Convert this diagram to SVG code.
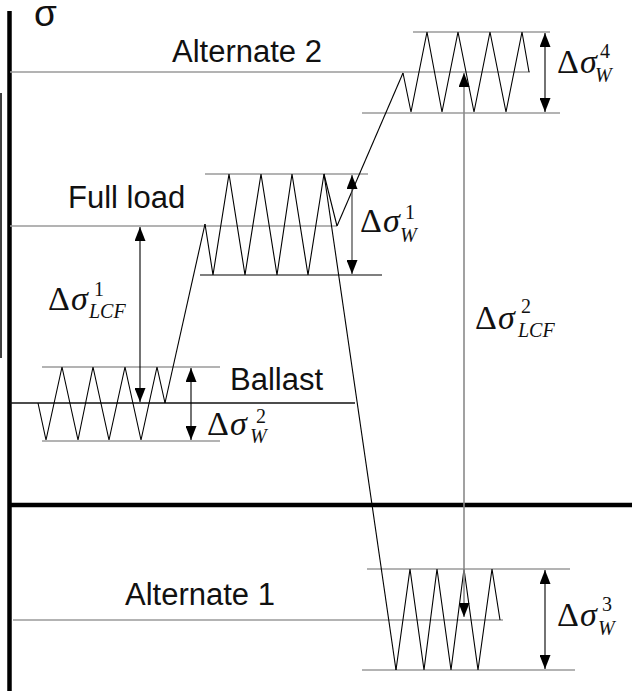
<svg xmlns="http://www.w3.org/2000/svg" width="635" height="691" viewBox="0 0 635 691">
<style>
.lbl{font-family:"Liberation Sans",Arial,sans-serif;font-size:31px;fill:#111}
.m{font-family:"Liberation Serif","Times New Roman",serif;font-size:34px;fill:#111}
.s{font-family:"Liberation Serif","Times New Roman",serif;font-size:20px;fill:#111}
.i{font-style:italic}
.g{stroke:#9a9a9a;stroke-width:1.6;fill:none}
.zz{stroke:#000;stroke-width:1.1;fill:none;stroke-linejoin:miter}
.ar{stroke:#000;stroke-width:1.1;fill:none}
</style>
<defs>
<marker id="ah" markerUnits="userSpaceOnUse" markerWidth="15" markerHeight="11" refX="14" refY="5.5" orient="auto-start-reverse" viewBox="0 0 15 11">
<path d="M0,0 L14,5.5 L0,11 z" fill="#000"/>
</marker>
</defs>
<rect width="635" height="691" fill="#fff"/>
<g id="axes">
<line x1="9.5" y1="11" x2="9.5" y2="691" stroke="#000" stroke-width="4.5"/>
<line x1="9" y1="505" x2="632" y2="505" stroke="#000" stroke-width="4.5"/>
<line x1="1" y1="93" x2="1" y2="358" stroke="#000" stroke-width="1.5"/>
<text class="lbl" x="34" y="26" style="font-size:37px">σ</text>
</g>
<g id="alternate2">
<line class="g" x1="10" y1="72" x2="530" y2="72"/>
<line class="g" x1="413" y1="32" x2="550" y2="32"/>
<line class="g" x1="362" y1="113" x2="560" y2="113"/>
<polyline class="zz" points="403,73 411,112 427,32 442,112 458,32 474,112 490,32 506,112 522,32 529,72"/>
<text class="lbl" x="172" y="62">Alternate 2</text>
</g>
<g id="fullload">
<line class="g" x1="10" y1="226" x2="337" y2="226"/>
<line class="g" x1="205" y1="174" x2="368" y2="174"/>
<line x1="200" y1="275" x2="382" y2="275" stroke="#555" stroke-width="1.4"/>
<polyline class="zz" points="205,224 213,275 229,174 245,275 261,174 277,275 292,174 308,275 324,174 337,226"/>
<text class="lbl" x="68" y="208">Full load</text>
</g>
<g id="ballast">
<line x1="10" y1="403" x2="355" y2="403" stroke="#111" stroke-width="1.3"/>
<line class="g" x1="42" y1="367" x2="220" y2="367"/>
<line class="g" x1="42" y1="441" x2="220" y2="441"/>
<polyline class="zz" points="38,403 46,440 62,367 78,440 93,367 109,440 125,367 141,440 157,367 165,403"/>
<text class="lbl" x="230" y="390">Ballast</text>
</g>
<g id="alternate1">
<line class="g" x1="13" y1="620" x2="503" y2="620"/>
<line class="g" x1="367" y1="569" x2="570" y2="569"/>
<line class="g" x1="362" y1="670" x2="575" y2="670"/>
<polyline class="zz" points="396,670 410,569 424,670 437,569 451,670 464,569 478,670 492,569 500,620"/>
<text class="lbl" x="125" y="605">Alternate 1</text>
</g>
<g id="connectors">
<line class="zz" x1="165" y1="403" x2="205" y2="224"/>
<line class="zz" x1="337" y1="226" x2="403" y2="73"/>
<line class="zz" x1="324" y1="174" x2="396" y2="670"/>
<line class="ar" x1="140" y1="227" x2="140" y2="402" marker-start="url(#ah)" marker-end="url(#ah)"/>
<line class="ar" x1="191" y1="368" x2="191" y2="440" marker-start="url(#ah)" marker-end="url(#ah)"/>
<line x1="352" y1="175" x2="352" y2="274" stroke="#444" stroke-width="1.2" marker-start="url(#ah)" marker-end="url(#ah)"/>
<line class="ar" x1="545" y1="33" x2="545" y2="112" marker-start="url(#ah)" marker-end="url(#ah)"/>
<line class="ar" x1="545" y1="570" x2="545" y2="669" marker-start="url(#ah)" marker-end="url(#ah)"/>
<line x1="464" y1="73" x2="464" y2="617" stroke="#8a8a8a" stroke-width="1.6" marker-start="url(#ah)" marker-end="url(#ah)"/>
</g>
<g id="math-labels">
<text class="m" x="557" y="73">Δ<tspan class="i" dx="1">σ</tspan></text>
<text class="s" x="600" y="58">4</text>
<text class="s i" x="595" y="82">W</text>
<text class="m" x="360" y="232">Δ<tspan class="i" dx="1">σ</tspan></text>
<text class="s" x="405" y="219">1</text>
<text class="s i" x="400" y="242">W</text>
<text class="m" x="48" y="310">Δ<tspan class="i" dx="1">σ</tspan></text>
<text class="s" x="94" y="296">1</text>
<text class="s i" x="89" y="318">LCF</text>
<text class="m" x="207" y="435">Δ<tspan class="i" dx="1">σ</tspan></text>
<text class="s" x="256" y="423">2</text>
<text class="s i" x="250" y="443">W</text>
<text class="m" x="475" y="329">Δ<tspan class="i" dx="1">σ</tspan></text>
<text class="s" x="521" y="313">2</text>
<text class="s i" x="518" y="337">LCF</text>
<text class="m" x="557" y="626">Δ<tspan class="i" dx="1">σ</tspan></text>
<text class="s" x="602" y="611">3</text>
<text class="s i" x="598" y="635">W</text>
</g>
</svg>
